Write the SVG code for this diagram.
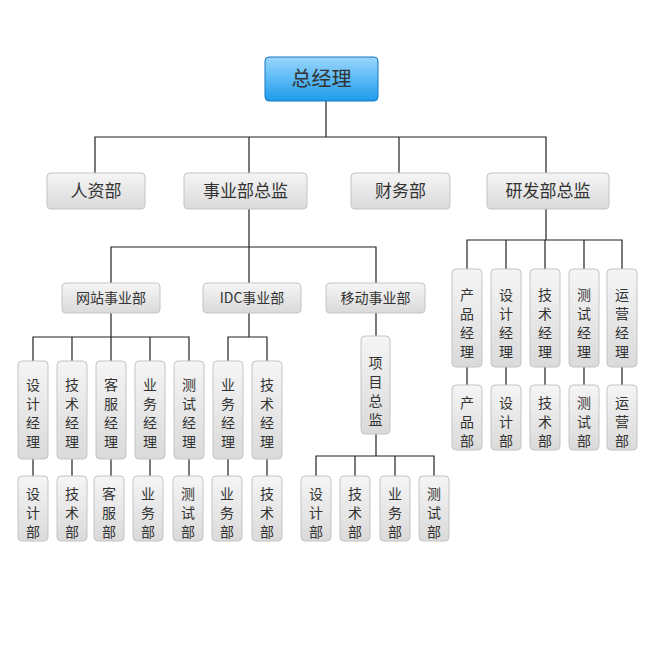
<svg xmlns="http://www.w3.org/2000/svg" width="655" height="663" viewBox="0 0 655 663">
<defs>
<linearGradient id="g" x1="0" y1="0" x2="0" y2="1"><stop offset="0" stop-color="#f5f5f5"/><stop offset="1" stop-color="#dadada"/></linearGradient>
<linearGradient id="b" x1="0" y1="0" x2="0" y2="1"><stop offset="0" stop-color="#9ad6fc"/><stop offset="1" stop-color="#1c9cec"/></linearGradient>
<style>
.n{fill:url(#g);stroke:#c4c4c4;stroke-width:1}
.t{font-family:"Noto Sans CJK SC","Noto Sans",sans-serif;fill:#333;text-anchor:middle}
.l2{font-size:17px}.l3{font-size:14px}.v{font-size:14px}
#conn path{fill:none;stroke:#222;stroke-width:1.2}
</style>
</defs>
<rect width="655" height="663" fill="#fff"/>
<g id="conn">
<path d="M326 101V137M95 173V137H546V173M249 137V173M399 137V173"/>
<path d="M249 209V283M111 283V247H376V283"/>
<path d="M111 313V337M33 361V337H189V361M72 337V361M111 337V361M150 337V361"/>
<path d="M249 313V337M228 361V337H267V361"/>
<path d="M376 313V336M376 434V456M316 476V456H434V476M355 456V476M395 456V476"/>
<path d="M546 209V240M467 269V240H622V269M506 240V269M545 240V269M584 240V269"/>
<path d="M33 459V476M72 459V476M111 459V476M150 459V476M189 459V476M228 459V476M267 459V476"/>
<path d="M467 367V385M506 367V385M545 367V385M584 367V385M622 367V385"/>
</g>
<g id="ceo"><rect x="265" y="57" width="113" height="44" rx="4" fill="url(#b)" stroke="#1479c2"/><text class="t" x="321.5" y="86" font-size="20" fill="#1a2a3a">总经理</text></g>
<g id="hr"><rect class="n" x="47" y="173" width="98" height="36" rx="4"/><text class="t l2" x="96" y="197">人资部</text></g>
<g id="biz"><rect class="n" x="184" y="173" width="123" height="36" rx="4"/><text class="t l2" x="245.5" y="197">事业部总监</text></g>
<g id="fin"><rect class="n" x="351" y="173" width="99" height="36" rx="4"/><text class="t l2" x="400.5" y="197">财务部</text></g>
<g id="rd"><rect class="n" x="487" y="173" width="122" height="36" rx="4"/><text class="t l2" x="548" y="197">研发部总监</text></g>
<g id="web"><rect class="n" x="62" y="283" width="98" height="30" rx="4"/><text class="t l3" x="111" y="303">网站事业部</text></g>
<g id="idc"><rect class="n" x="203" y="283" width="98" height="30" rx="4"/><text class="t l3" x="252" y="303">IDC事业部</text></g>
<g id="mob"><rect class="n" x="326" y="283" width="99" height="30" rx="4"/><text class="t l3" x="375.5" y="303">移动事业部</text></g>
<g id="wm1"><rect class="n" x="18" y="361" width="30" height="98" rx="4"/><text class="t v" x="33" y="390">设<tspan x="33" dy="19">计</tspan><tspan x="33" dy="19">经</tspan><tspan x="33" dy="19">理</tspan></text></g>
<g id="wm2"><rect class="n" x="57" y="361" width="30" height="98" rx="4"/><text class="t v" x="72" y="390">技<tspan x="72" dy="19">术</tspan><tspan x="72" dy="19">经</tspan><tspan x="72" dy="19">理</tspan></text></g>
<g id="wm3"><rect class="n" x="96" y="361" width="30" height="98" rx="4"/><text class="t v" x="111" y="390">客<tspan x="111" dy="19">服</tspan><tspan x="111" dy="19">经</tspan><tspan x="111" dy="19">理</tspan></text></g>
<g id="wm4"><rect class="n" x="135" y="361" width="30" height="98" rx="4"/><text class="t v" x="150" y="390">业<tspan x="150" dy="19">务</tspan><tspan x="150" dy="19">经</tspan><tspan x="150" dy="19">理</tspan></text></g>
<g id="wm5"><rect class="n" x="174" y="361" width="30" height="98" rx="4"/><text class="t v" x="189" y="390">测<tspan x="189" dy="19">试</tspan><tspan x="189" dy="19">经</tspan><tspan x="189" dy="19">理</tspan></text></g>
<g id="im1"><rect class="n" x="213" y="361" width="30" height="98" rx="4"/><text class="t v" x="228" y="390">业<tspan x="228" dy="19">务</tspan><tspan x="228" dy="19">经</tspan><tspan x="228" dy="19">理</tspan></text></g>
<g id="im2"><rect class="n" x="252" y="361" width="30" height="98" rx="4"/><text class="t v" x="267" y="390">技<tspan x="267" dy="19">术</tspan><tspan x="267" dy="19">经</tspan><tspan x="267" dy="19">理</tspan></text></g>
<g id="wd1"><rect class="n" x="18" y="476" width="30" height="65" rx="4"/><text class="t v" x="33" y="499">设<tspan x="33" dy="19">计</tspan><tspan x="33" dy="19">部</tspan></text></g>
<g id="wd2"><rect class="n" x="57" y="476" width="30" height="65" rx="4"/><text class="t v" x="72" y="499">技<tspan x="72" dy="19">术</tspan><tspan x="72" dy="19">部</tspan></text></g>
<g id="wd3"><rect class="n" x="94" y="476" width="30" height="65" rx="4"/><text class="t v" x="109" y="499">客<tspan x="109" dy="19">服</tspan><tspan x="109" dy="19">部</tspan></text></g>
<g id="wd4"><rect class="n" x="133" y="476" width="30" height="65" rx="4"/><text class="t v" x="148" y="499">业<tspan x="148" dy="19">务</tspan><tspan x="148" dy="19">部</tspan></text></g>
<g id="wd5"><rect class="n" x="173" y="476" width="30" height="65" rx="4"/><text class="t v" x="188" y="499">测<tspan x="188" dy="19">试</tspan><tspan x="188" dy="19">部</tspan></text></g>
<g id="id1"><rect class="n" x="212" y="476" width="30" height="65" rx="4"/><text class="t v" x="227" y="499">业<tspan x="227" dy="19">务</tspan><tspan x="227" dy="19">部</tspan></text></g>
<g id="id2"><rect class="n" x="252" y="476" width="30" height="65" rx="4"/><text class="t v" x="267" y="499">技<tspan x="267" dy="19">术</tspan><tspan x="267" dy="19">部</tspan></text></g>
<g id="pm"><rect class="n" x="361" y="336" width="29" height="98" rx="4"/><text class="t v" x="375.5" y="368">项<tspan x="375.5" dy="19">目</tspan><tspan x="375.5" dy="19">总</tspan><tspan x="375.5" dy="19">监</tspan></text></g>
<g id="md1"><rect class="n" x="301" y="476" width="30" height="65" rx="4"/><text class="t v" x="316" y="499">设<tspan x="316" dy="19">计</tspan><tspan x="316" dy="19">部</tspan></text></g>
<g id="md2"><rect class="n" x="340" y="476" width="30" height="65" rx="4"/><text class="t v" x="355" y="499">技<tspan x="355" dy="19">术</tspan><tspan x="355" dy="19">部</tspan></text></g>
<g id="md3"><rect class="n" x="380" y="476" width="30" height="65" rx="4"/><text class="t v" x="395" y="499">业<tspan x="395" dy="19">务</tspan><tspan x="395" dy="19">部</tspan></text></g>
<g id="md4"><rect class="n" x="419" y="476" width="30" height="65" rx="4"/><text class="t v" x="434" y="499">测<tspan x="434" dy="19">试</tspan><tspan x="434" dy="19">部</tspan></text></g>
<g id="rm1"><rect class="n" x="452" y="269" width="30" height="98" rx="4"/><text class="t v" x="467" y="300">产<tspan x="467" dy="19">品</tspan><tspan x="467" dy="19">经</tspan><tspan x="467" dy="19">理</tspan></text></g>
<g id="rm2"><rect class="n" x="491" y="269" width="30" height="98" rx="4"/><text class="t v" x="506" y="300">设<tspan x="506" dy="19">计</tspan><tspan x="506" dy="19">经</tspan><tspan x="506" dy="19">理</tspan></text></g>
<g id="rm3"><rect class="n" x="530" y="269" width="30" height="98" rx="4"/><text class="t v" x="545" y="300">技<tspan x="545" dy="19">术</tspan><tspan x="545" dy="19">经</tspan><tspan x="545" dy="19">理</tspan></text></g>
<g id="rm4"><rect class="n" x="569" y="269" width="30" height="98" rx="4"/><text class="t v" x="584" y="300">测<tspan x="584" dy="19">试</tspan><tspan x="584" dy="19">经</tspan><tspan x="584" dy="19">理</tspan></text></g>
<g id="rm5"><rect class="n" x="607" y="269" width="30" height="98" rx="4"/><text class="t v" x="622" y="300">运<tspan x="622" dy="19">营</tspan><tspan x="622" dy="19">经</tspan><tspan x="622" dy="19">理</tspan></text></g>
<g id="rd1"><rect class="n" x="452" y="385" width="30" height="65" rx="4"/><text class="t v" x="467" y="408">产<tspan x="467" dy="19">品</tspan><tspan x="467" dy="19">部</tspan></text></g>
<g id="rd2"><rect class="n" x="491" y="385" width="30" height="65" rx="4"/><text class="t v" x="506" y="408">设<tspan x="506" dy="19">计</tspan><tspan x="506" dy="19">部</tspan></text></g>
<g id="rd3"><rect class="n" x="530" y="385" width="30" height="65" rx="4"/><text class="t v" x="545" y="408">技<tspan x="545" dy="19">术</tspan><tspan x="545" dy="19">部</tspan></text></g>
<g id="rd4"><rect class="n" x="569" y="385" width="30" height="65" rx="4"/><text class="t v" x="584" y="408">测<tspan x="584" dy="19">试</tspan><tspan x="584" dy="19">部</tspan></text></g>
<g id="rd5"><rect class="n" x="607" y="385" width="30" height="65" rx="4"/><text class="t v" x="622" y="408">运<tspan x="622" dy="19">营</tspan><tspan x="622" dy="19">部</tspan></text></g>
</svg>
